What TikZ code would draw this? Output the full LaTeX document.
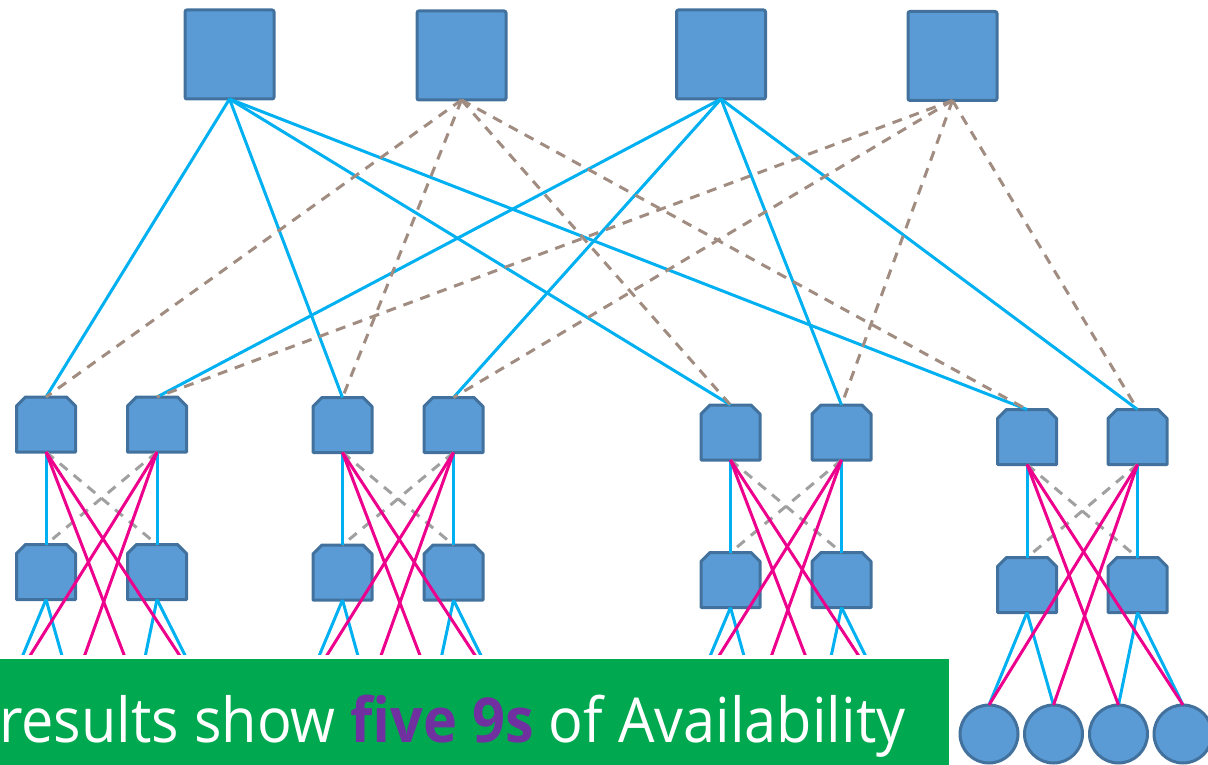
\documentclass[tikz,border=0pt]{standalone}
\usepackage{fontspec}
\setmainfont{Open Sans}
\definecolor{boxfill}{HTML}{5B9BD5}
\definecolor{boxedge}{HTML}{41719C}
\definecolor{uplink}{HTML}{00B0F0}
\definecolor{crosslink}{HTML}{EC008C}
\definecolor{spare}{HTML}{A08C80}
\definecolor{sparelow}{HTML}{A0A0A0}
\definecolor{bannergreen}{HTML}{00A84F}
\definecolor{accent}{HTML}{7030A0}
\tikzset{
  core/.style={draw=boxedge, fill=boxfill, line width=3pt, rounded corners=2pt,
    minimum width=89pt, minimum height=89pt, inner sep=0pt, outer sep=0pt},
  switchbox/.style={rectangle, minimum width=59pt, minimum height=55pt,
    inner sep=0pt, outer sep=0pt},
  switchbody/.style={draw=boxedge, fill=boxfill, line width=3pt, line join=round},
  host/.style={circle, draw=boxedge, fill=boxfill, line width=3pt,
    minimum size=58pt, inner sep=0pt, outer sep=0pt},
  live/.style={uplink, line width=3pt},
  backup/.style={spare, line width=3pt, dash pattern=on 10pt off 8pt},
  backuplow/.style={sparelow, line width=3pt, dash pattern=on 10pt off 8pt},
  cross/.style={crosslink, line width=3pt},
}
\begin{document}
\begin{tikzpicture}[x=1pt,y=-1pt]
\useasboundingbox (0,0) rectangle (1208,765);
\clip (0,0) rectangle (1208,765);

% core layer
\node[core] (s1) at (229.5,54.5) {};
\node[core] (s2) at (461.5,55.5) {};
\node[core] (s3) at (721,54.5) {};
\node[core] (s4) at (952.5,56) {};

% aggregation and access switches, four pods
\node[switchbox] (a1) at (46,424.5) {};
\node[switchbox] (a2) at (157,424.5) {};
\node[switchbox] (b1) at (46,572) {};
\node[switchbox] (b2) at (157,572) {};

\node[switchbox] (c1) at (342.5,425) {};
\node[switchbox] (c2) at (453.5,425) {};
\node[switchbox] (d1) at (342.5,572.5) {};
\node[switchbox] (d2) at (453.5,572.5) {};

\node[switchbox] (e1) at (730.5,432.5) {};
\node[switchbox] (e2) at (841.5,432.5) {};
\node[switchbox] (f1) at (730.5,580) {};
\node[switchbox] (f2) at (841.5,580) {};

\node[switchbox] (g1) at (1027,437) {};
\node[switchbox] (g2) at (1137.5,437) {};
\node[switchbox] (h1) at (1027,585) {};
\node[switchbox] (h2) at (1137.5,585) {};

% switch bodies: rectangles with the two upper corners cut off
\foreach \n in {a1,a2,b1,b2,c1,c2,d1,d2,e1,e2,f1,f2,g1,g2,h1,h2}
  \draw[switchbody] (\n.south west) -- ([yshift=-9pt]\n.north west)
    -- ([xshift=9pt]\n.north west) -- ([xshift=-9pt]\n.north east)
    -- ([yshift=-9pt]\n.north east) -- (\n.south east) -- cycle;

% hosts
\node[host] (n1) at (989,734) {};
\node[host] (n2) at (1053.5,734) {};
\node[host] (n3) at (1118.5,734) {};
\node[host] (n4) at (1183,734) {};

% host attachment points below the caption
\coordinate (p1) at (8,691);   \coordinate (p2) at (72,691);
\coordinate (p3) at (138,691); \coordinate (p4) at (203,691);
\coordinate (q1) at (304,692); \coordinate (q2) at (368,692);
\coordinate (q3) at (434,692); \coordinate (q4) at (499,692);
\coordinate (r1) at (692,699); \coordinate (r2) at (756,699);
\coordinate (r3) at (822,699); \coordinate (r4) at (887,699);

% core to aggregation: active links
\foreach \t in {a1,c1,e1,g1} \draw[live] (s1.south) -- (\t.north);
\foreach \t in {a2,c2,e2,g2} \draw[live] (s3.south) -- (\t.north);
% core to aggregation: standby links
\foreach \t in {a1,c1,e1,g1} \draw[backup] (s2.south) -- (\t.north);
\foreach \t in {a2,c2,e2,g2} \draw[backup] (s4.south) -- (\t.north);

% inside each pod
\foreach \u/\v/\l/\m/\ha/\hb/\hc/\hd in {a1/a2/b1/b2/p1/p2/p3/p4, c1/c2/d1/d2/q1/q2/q3/q4, e1/e2/f1/f2/r1/r2/r3/r4, g1/g2/h1/h2/n1.north/n2.north/n3.north/n4.north}{
  \draw[backuplow] (\u.south) -- (\m.north);
  \draw[backuplow] (\v.south) -- (\l.north);
  \draw[live] (\u.south) -- (\l.north);
  \draw[live] (\v.south) -- (\m.north);
  \draw[live] (\l.south) -- (\ha);
  \draw[live] (\l.south) -- (\hb);
  \draw[live] (\m.south) -- (\hc);
  \draw[live] (\m.south) -- (\hd);
  \draw[cross] (\u.south) -- (\hc);
  \draw[cross] (\u.south) -- (\hd);
  \draw[cross] (\v.south) -- (\ha);
  \draw[cross] (\v.south) -- (\hb);
}

% caption banner
\draw[fill=bannergreen, draw=white, line width=4pt] (-10,657) rectangle (951,790);
\node[anchor=base west, inner sep=0pt, text=white, xscale=0.93, transform shape,
  font=\fontsize{62}{70}\selectfont] (caption) at (-1,742)
  {results show \textcolor{accent}{\bfseries five 9s} of Availability};
\end{tikzpicture}
\end{document}
